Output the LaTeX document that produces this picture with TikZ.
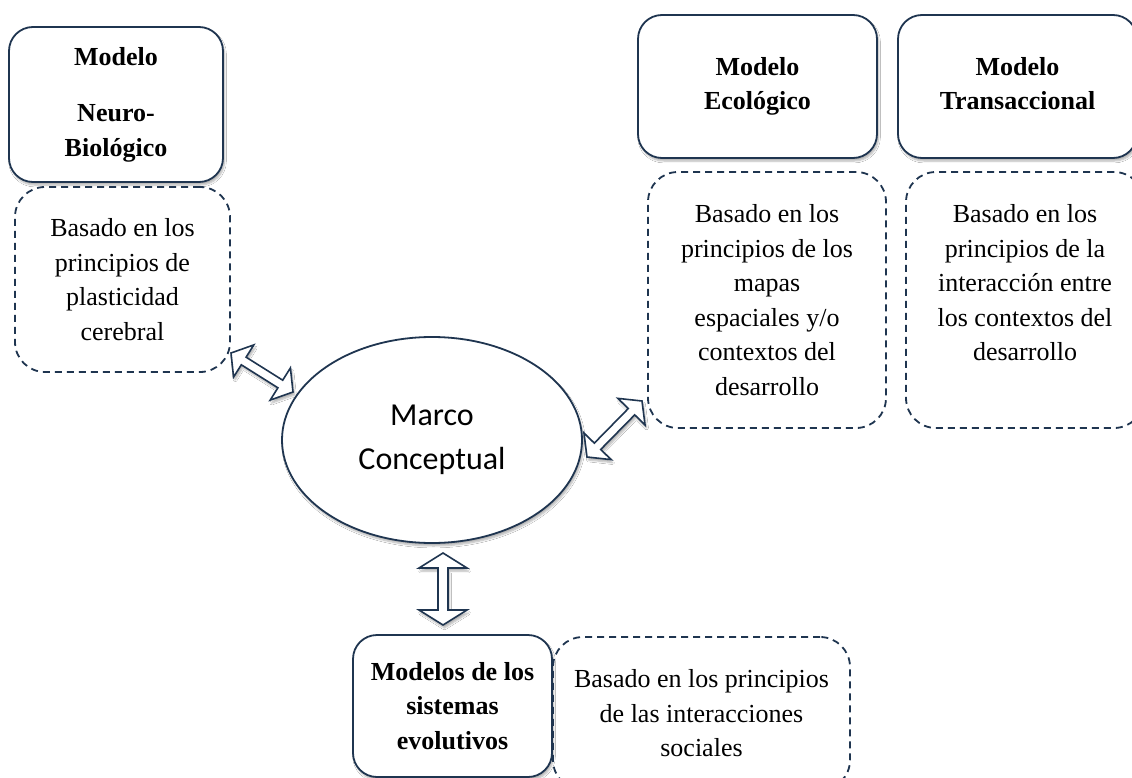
\documentclass[tikz,border=0pt]{standalone}
\usepackage{fontspec}
\setmainfont{Liberation Serif}
\newfontfamily\calibri{Carlito}
\usetikzlibrary{calc,shapes.geometric,shadows.blur}
\definecolor{navy}{HTML}{1F3550}
\begin{document}
\begin{tikzpicture}[x=1pt,y=-1pt,
  softshadow/.style={blur shadow={shadow xshift=1.5pt, shadow yshift=-3pt, shadow blur steps=6, shadow opacity=30}},
  solidbox/.style={draw=navy, line width=1.8pt, rounded corners=24pt, fill=white, softshadow,
    align=center, font=\bfseries\fontsize{26}{34.5}\selectfont, inner sep=0pt},
  dashbox/.style={draw=navy, line width=1.8pt, dash pattern=on 7pt off 5pt, rounded corners=30pt,
    align=center, font=\fontsize{26}{34.5}\selectfont, inner sep=0pt},
  centre/.style={ellipse, draw=navy, line width=1.8pt, fill=white, softshadow,
    align=center, font=\calibri\fontsize{32}{44}\selectfont, inner sep=0pt},
  blockarrow/.style n args={3}{draw=navy, line width=1.6pt, fill=white, line join=miter, softshadow,
    to path={
      (\tikztostart)
      -- ($(\tikztostart)!#1!(\tikztotarget)!#2!90:(\tikztotarget)$)
      -- ($(\tikztostart)!#1!(\tikztotarget)!#3!90:(\tikztotarget)$)
      -- ($(\tikztotarget)!#1!(\tikztostart)!#3!-90:(\tikztostart)$)
      -- ($(\tikztotarget)!#1!(\tikztostart)!#2!-90:(\tikztostart)$)
      -- (\tikztotarget)
      -- ($(\tikztotarget)!#1!(\tikztostart)!#2!90:(\tikztostart)$)
      -- ($(\tikztotarget)!#1!(\tikztostart)!#3!90:(\tikztostart)$)
      -- ($(\tikztostart)!#1!(\tikztotarget)!#3!-90:(\tikztotarget)$)
      -- ($(\tikztostart)!#1!(\tikztotarget)!#2!-90:(\tikztotarget)$)
      -- cycle}}
]
\useasboundingbox (0,0) rectangle (1132,778);
\fill[white] (0,0) rectangle (1132,778);
\clip (0,0) rectangle (1132,778);

% title boxes
\node[solidbox, minimum width=214pt, minimum height=155pt] (neuro) at (116,104.5) {Modelo\\[22pt]Neuro-\\Biológico};
\node[solidbox, minimum width=239pt, minimum height=143pt] (eco) at (757.5,86.5) {Modelo\\Ecológico};
\node[solidbox, minimum width=239pt, minimum height=143pt] (trans) at (1017.5,86.5) {Modelo\\Transaccional\vphantom{g}};
\node[solidbox, minimum width=199pt, minimum height=142pt] (evol) at (452.5,706) {Modelos de los\\sistemas\\evolutivos};

% description boxes
\node[dashbox, minimum width=215pt, minimum height=185pt] (neurod) at (122.5,279.5) {Basado en los\\principios de\\plasticidad\\cerebral};
\node[dashbox, minimum width=238pt, minimum height=256pt] (ecod) at (767,300) {Basado en los\\principios de los\\mapas\\espaciales y/o\\contextos del\\desarrollo};
\node[dashbox, minimum width=238pt, minimum height=256pt] (transd) at (1025,300) {Basado en los\\principios de la\\interacción entre\\los contextos del\\desarrollo\\\mbox{}};
\node[dashbox, minimum width=297pt, minimum height=153pt] (evold) at (701.5,713.5) {Basado en los principios\\de las interacciones\\sociales};

% central ellipse
\node[centre, minimum width=300pt, minimum height=206pt] (marco) at (432,440) {Marco\\Conceptual};

% arrow end points
\coordinate (la1) at (231,353);
\coordinate (la2) at (293,392);
\coordinate (ra1) at (587,457);
\coordinate (ra2) at (642,401);
\coordinate (va1) at (443,553);
\coordinate (va2) at (443,625);

\draw[blockarrow={15pt}{19pt}{4.5pt}] (la1) to (la2);
\draw[blockarrow={15pt}{19pt}{4.5pt}] (ra1) to (ra2);
\draw[blockarrow={15pt}{24pt}{5pt}] (va1) to (va2);
\end{tikzpicture}
\end{document}
